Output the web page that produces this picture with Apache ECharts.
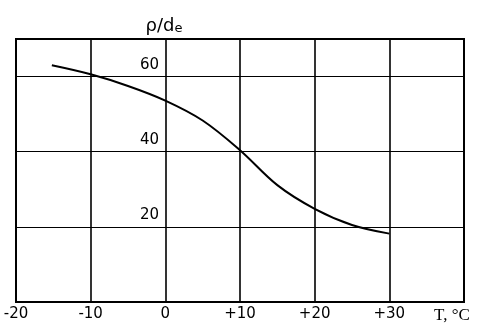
<!DOCTYPE html>
<html>
<head>
<meta charset="utf-8">
<script src="https://cdn.jsdelivr.net/npm/echarts@6/dist/echarts.min.js"></script>
<style>html,body{margin:0;padding:0;background:#fff}#c{width:489px;height:328px}</style>
</head>
<body>
<div id="c"></div>
<script>
var temps = [-15.2, -10, -5, 0, 5, 10, 15, 20, 25, 30];
var ratio = [63, 60.6, 57.5, 53.6, 48.3, 40.4, 31.1, 24.8, 20.5, 18.2];
var xTicks = [-20, -10, 0, 10, 20, 30, 40];
var yTicks = [20, 40, 60];

var FONT = 'DejaVu Sans';
var chart = echarts.init(document.getElementById('c'));
chart.setOption({
  animation: false,
  backgroundColor: '#fff',
  grid: { left: 16, right: 25, top: 39, bottom: 26, outerBoundsMode: 'none', containLabel: false, show: true, borderColor: '#000', borderWidth: 2, backgroundColor: 'transparent' },
  xAxis: {
    type: 'value', min: -20, max: 40, interval: 10,
    axisLine: { show: false, onZero: false }, axisTick: { show: false },
    splitLine: { show: true, lineStyle: { color: '#000', width: 1.6 } },
    axisLabel: {
      margin: 5, color: '#000', fontFamily: FONT, fontSize: 15,
      showMinLabel: true, showMaxLabel: true,
      formatter: function (v) {
        if (v === 40) return '{u|T, °C}';
        if (xTicks.indexOf(v) < 0) return '';
        if (v > 0) return '+' + v;
        return String(v);
      },
      rich: { u: { fontFamily: 'Liberation Serif', fontSize: 17, color: '#000', padding: [0, 24, 0, 0] } }
    }
  },
  yAxis: {
    type: 'value', min: 0, max: 70, interval: 20,
    offset: -148,
    axisLine: { show: false, onZero: false }, axisTick: { show: false },
    splitLine: { show: true, lineStyle: { color: '#000', width: 1.2 } },
    name: '{a|ρ/d}{b|e}', nameLocation: 'end', nameGap: 4,
    nameTextStyle: { align: 'center', rich: { a: { fontFamily: FONT, fontSize: 18, color: '#000' }, b: { fontFamily: FONT, fontSize: 13, color: '#000', verticalAlign: 'bottom' } } },
    axisLabel: {
      margin: 5, color: '#000', fontFamily: FONT, fontSize: 15,
      verticalAlign: 'bottom', padding: [0, 0, 4, 0],
      formatter: function (v) { return yTicks.indexOf(v) >= 0 ? String(v) : ''; }
    }
  },
  series: [{
    type: 'line', smooth: 0.35, symbol: 'none',
    lineStyle: { color: '#000', width: 2 },
    data: temps.map(function (t, i) { return [t, ratio[i]]; })
  }]
});
</script>
</body>
</html>
